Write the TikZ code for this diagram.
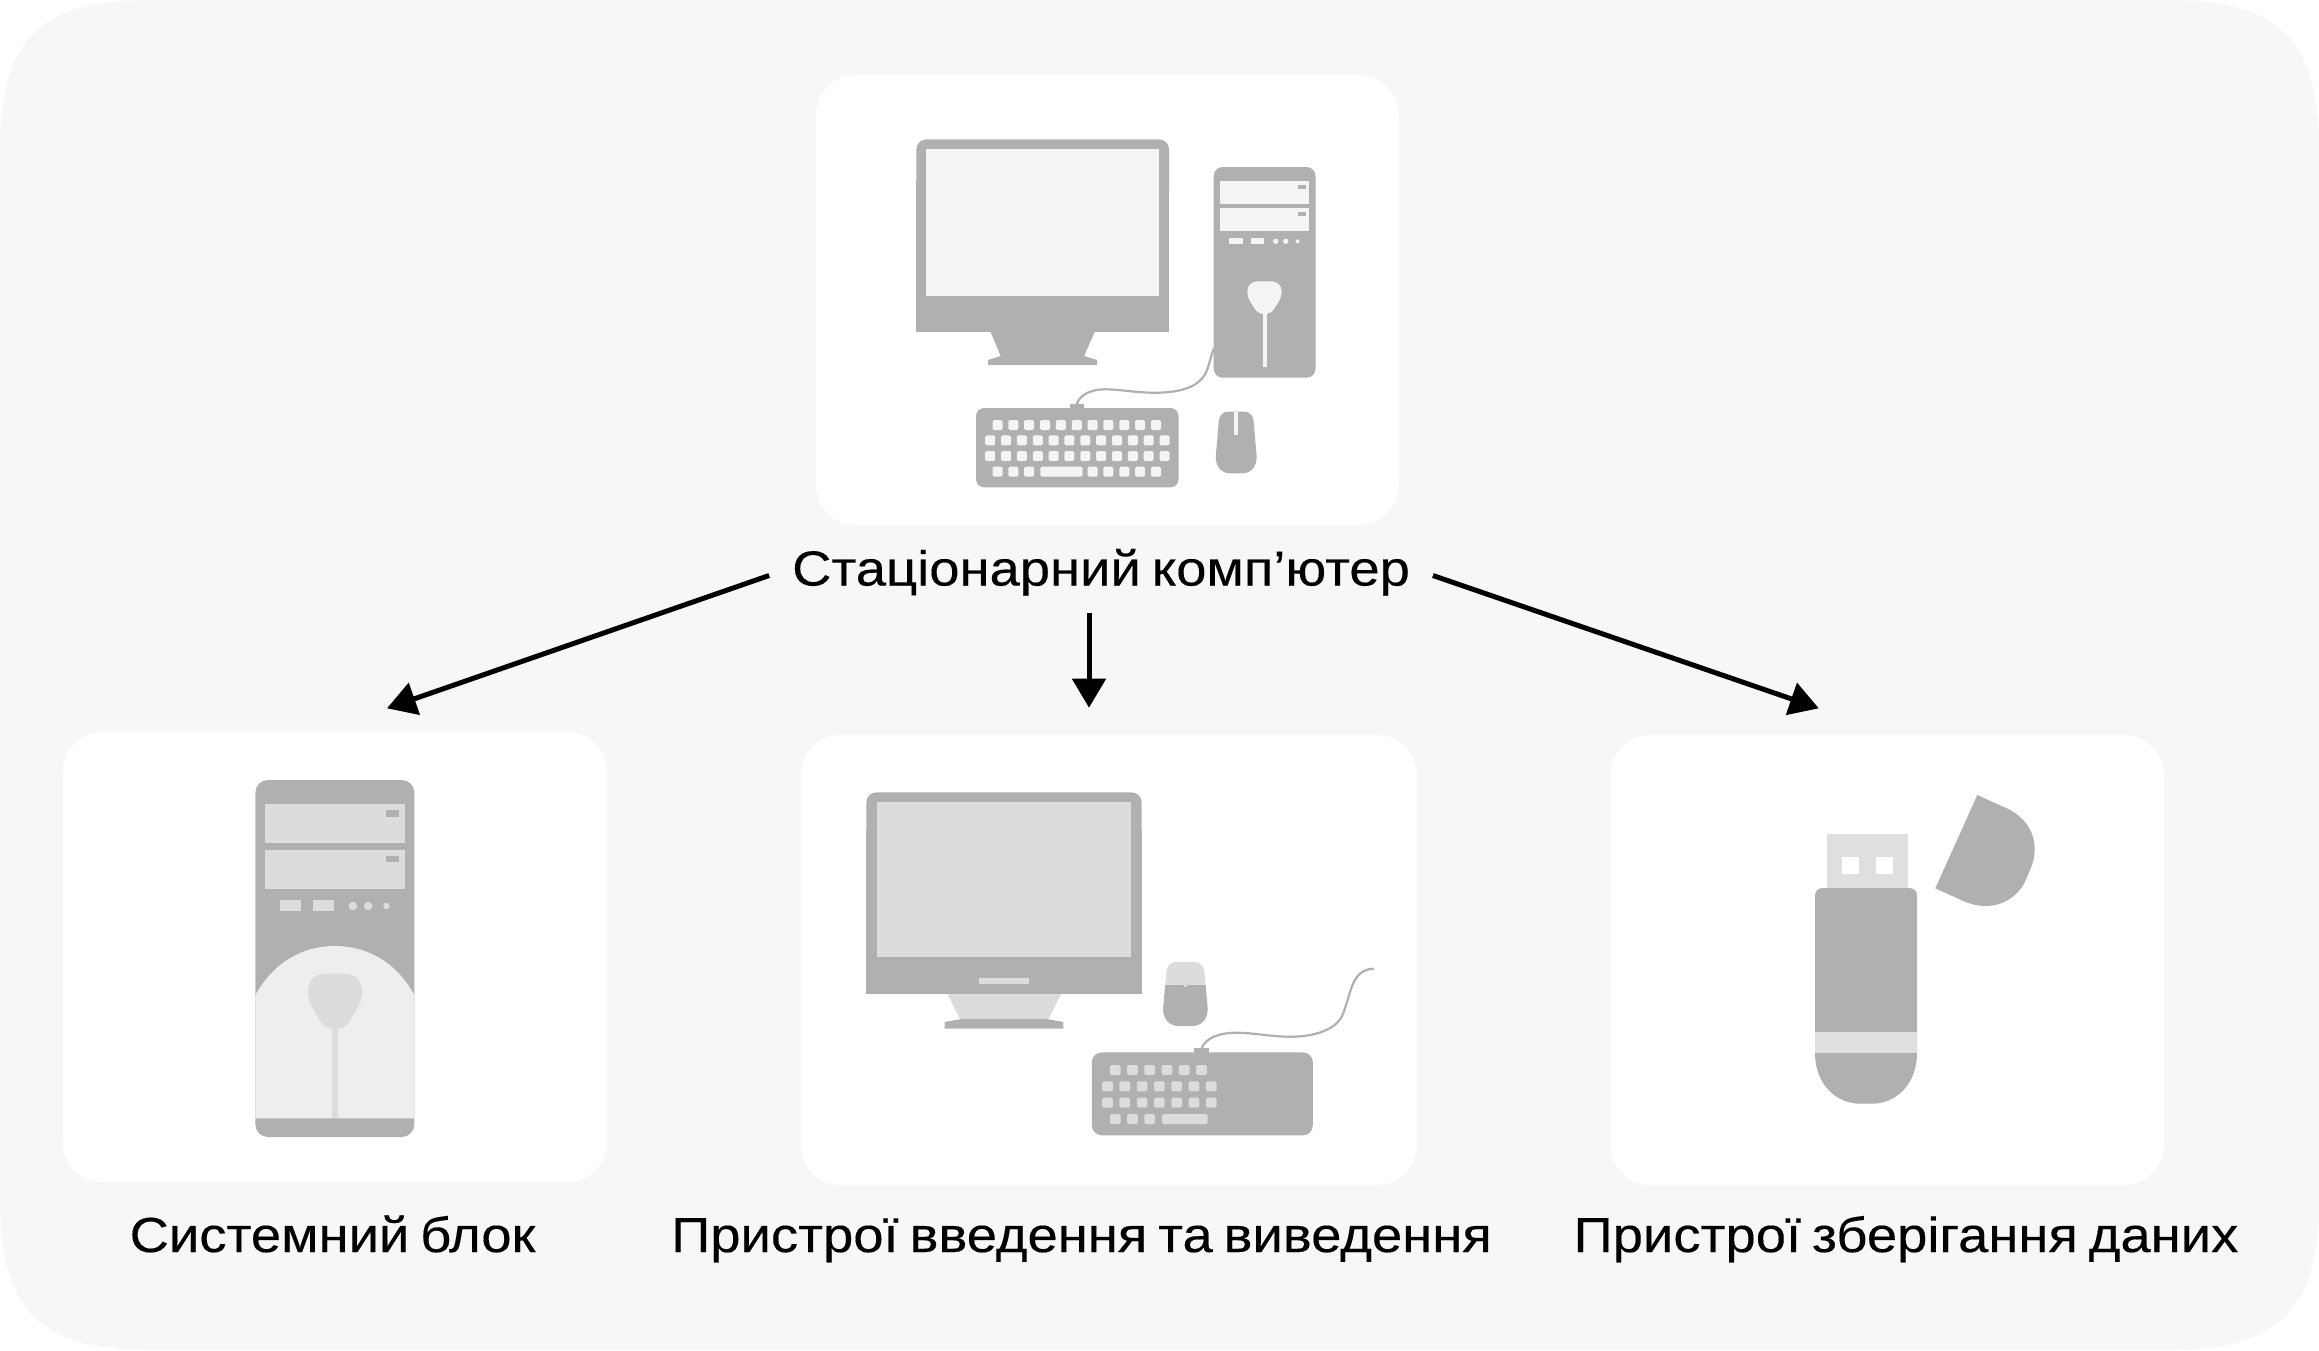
\documentclass[tikz,border=0pt]{standalone}
\usepackage{fontspec}
\usepackage{xcolor}
\usetikzlibrary{arrows.meta}
\setmainfont{Liberation Sans}[FakeStretch=1.105,FakeBold=0.25,WordSpace=0.72]

\definecolor{pagegrey}{HTML}{F7F7F7}
\definecolor{bodygrey}{HTML}{B0B0B0}
\definecolor{palegrey}{HTML}{DCDCDC}
\definecolor{domegrey}{HTML}{EEEEEE}
\definecolor{screengrey}{HTML}{F4F4F6}

\tikzset{
  panel/.style={fill=white,rounded corners=0.4cm,inner sep=0pt,minimum height=4.5cm},
  caption/.style={anchor=base,font=\fontsize{14pt}{17pt}\selectfont,inner sep=0pt},
  link/.style={line width=0.05cm,-{Triangle[length=0.29cm,width=0.33cm]}},
  wire/.style={draw=bodygrey,line width=0.022cm},
  capA/.style={fill=screengrey,rounded corners=0.015cm},
  capB/.style={fill=palegrey,rounded corners=0.015cm}
}

% outline of the mouse, one unit wide each side, one unit tall
\newcommand{\mouseoutline}{(-0.4,0) .. controls (-0.75,0) and (-0.86,0.1) .. (-0.86,0.19) -- (-1,0.73)
  .. controls (-1,0.9) and (-0.7,1) .. (-0.3,1) -- (0.3,1)
  .. controls (0.7,1) and (1,0.9) .. (1,0.73) -- (0.86,0.19)
  .. controls (0.86,0.1) and (0.75,0) .. (0.4,0) -- cycle}
% outline of the plate on the case front
\newcommand{\badgeoutline}{(-0.33,0) .. controls (-0.75,0) and (-1,0.12) .. (-1,0.32)
  .. controls (-1,0.42) and (-0.92,0.53) .. (-0.85,0.6) -- (-0.55,0.85)
  .. controls (-0.42,0.96) and (-0.2,1) .. (0,1)
  .. controls (0.2,1) and (0.42,0.96) .. (0.55,0.85) -- (0.85,0.6)
  .. controls (0.92,0.53) and (1,0.42) .. (1,0.32)
  .. controls (1,0.12) and (0.75,0) .. (0.33,0) -- cycle}

\begin{document}
\begin{tikzpicture}[x=0.01cm,y=-0.01cm]
\useasboundingbox (0,0) rectangle (2319,1350);
\fill[white] (0,0) rectangle (2319,1350);
\fill[pagegrey] (150,0) -- (2169,0) .. controls (2279,0) and (2319,40) .. (2319,150)
  -- (2319,1200) .. controls (2319,1310) and (2279,1350) .. (2169,1350)
  -- (150,1350) .. controls (40,1350) and (0,1310) .. (0,1200)
  -- (0,150) .. controls (0,40) and (40,0) .. (150,0) -- cycle;

\node[panel,minimum width=5.826cm] (pcBox) at (1107.3,300) {};
\node[panel,minimum width=5.439cm] (caseBox) at (334.85,957) {};
\node[panel,minimum width=6.156cm] (ioBox) at (1109,960) {};
\node[panel,minimum width=5.531cm] (usbBox) at (1887.2,960) {};

% desktop set: monitor
\fill[bodygrey,rounded corners=0.1cm] (916.4,139.3) rectangle (1169,200);
\fill[bodygrey] (916.4,180) rectangle (1169,332.3);
\fill[screengrey] (926,149.3) rectangle (1159,296.3);
\fill[bodygrey] (990.6,332) -- (1094.7,332) -- (1084,356) -- (1097,360) -- (1097,365) -- (988,365) -- (988,360) -- (1000.6,356) -- cycle;
% desktop set: case
\fill[bodygrey,rounded corners=0.09cm] (1213.7,167) rectangle (1315.5,377.7);
\foreach \y in {181,208} {
  \fill[screengrey] (1219.5,\y) rectangle ++(89.9,23.2);
  \fill[bodygrey] (1297.6,\y+4) rectangle ++(8.4,3.7);
}
\fill[screengrey] (1229.4,237.7) rectangle (1243.2,244);
\fill[screengrey] (1250.5,237.7) rectangle (1263.9,244);
\foreach \x/\r in {1275.7/2.7, 1285.7/2.7, 1297.6/2} \fill[screengrey] (\x,241.3) circle (\r);
\fill[screengrey,shift={(1264.5,281.3)},xscale=17.25,yscale=32.7] \badgeoutline;
\fill[screengrey] (1262.5,312) rectangle (1266.5,366.7);
\draw[wire] (1213.7,348.3) -- (1208,367) .. controls (1203,385) and (1185,392.7) .. (1155,392.7)
  .. controls (1135,392.7) and (1120,389.3) .. (1105,389.3) .. controls (1092,389.3) and (1080,394) .. (1076.7,404.3);
% desktop set: keyboard and mouse
\fill[bodygrey] (1070,404) rectangle (1084,409);
\fill[bodygrey,rounded corners=0.08cm] (976,408) rectangle (1178.5,487.3);
\foreach \i in {0,...,10} \fill[capA] ({992.5+15.85*\i},420) rectangle ++(10,10);
\foreach \y in {435.3,451} \foreach \i in {0,...,11} \fill[capA] ({985.2+15.85*\i},\y) rectangle ++(10,10);
\foreach \i in {0,1,2,6,7,8,9,10} \fill[capA] ({992.5+15.85*\i},466.7) rectangle ++(10,10);
\fill[capA] (1040.4,466.7) rectangle (1082.5,476.7);
\fill[bodygrey,shift={(1236.2,411.7)},xscale=20.45,yscale=61.6] \mouseoutline;
\fill[screengrey] (1234.2,411.7) rectangle (1238.2,435);

% system unit, large
\fill[bodygrey,rounded corners=0.125cm] (255.4,780) rectangle (414.3,1137);
\begin{scope}
  \clip (255.4,780) rectangle (414.3,1118.3);
  \fill[domegrey] (255.4,1118.3) -- (255.4,995) .. controls (275,960) and (305,946) .. (334.85,946)
    .. controls (365,946) and (395,960) .. (414.3,995) -- (414.3,1118.3) -- cycle;
\end{scope}
\foreach \y in {804,849.5} {
  \fill[palegrey] (265,\y) rectangle ++(140,39.2);
  \fill[bodygrey] (386.4,\y+6) rectangle ++(12.9,6.8);
}
\fill[palegrey] (280.4,899.7) rectangle (301.4,910.7);
\fill[palegrey] (312.9,899.7) rectangle (333.9,910.7);
\foreach \x/\r in {352.9/4.3, 368.2/4.3, 386.4/3.2} \fill[palegrey] (\x,906) circle (\r);
\fill[palegrey,shift={(335,973.7)},xscale=27.1,yscale=55.6] \badgeoutline;
\fill[palegrey] (331.6,1025) rectangle (338,1118.3);

% input and output devices: monitor
\fill[bodygrey,rounded corners=0.1cm] (866.4,792.3) rectangle (1141.6,850);
\fill[bodygrey] (866.4,830) rectangle (1141.6,994);
\fill[palegrey] (877.1,802.3) rectangle (1131,956.7);
\fill[palegrey] (979,978.3) rectangle (1029,984.3);
\fill[palegrey] (947.5,994) -- (1061,994) -- (1049,1018.5) -- (959.7,1018.5) -- cycle;
\fill[bodygrey] (963,1018.7) -- (1045,1018.7) -- (1063.3,1022) -- (1063.3,1028.7) -- (944.7,1028.7) -- (944.7,1022) -- cycle;
% input and output devices: mouse
\begin{scope}
  \clip[shift={(1185.4,962)},xscale=22.35,yscale=64] \mouseoutline;
  \fill[bodygrey] (1160,985) rectangle (1210,1030);
  \fill[palegrey] (1160,960) rectangle (1210,984.7);
  \fill[palegrey] (1185.5,985) circle (2);
\end{scope}
% input and output devices: keyboard and its lead
\draw[wire] (1374.1,968.7) .. controls (1358,968.7) and (1353,982) .. (1349.6,993.3)
  .. controls (1346,1005) and (1344,1012) .. (1341.7,1016.7) .. controls (1333,1032) and (1310,1036.7) .. (1290.3,1036.7)
  .. controls (1270,1036.7) and (1255,1032.7) .. (1235,1032.7) .. controls (1220,1032.7) and (1205,1038) .. (1201.7,1048.3);
\fill[bodygrey] (1194.2,1048) rectangle (1209.3,1053);
\fill[bodygrey,rounded corners=0.1cm] (1091.8,1052.3) rectangle (1312.8,1135.3);
\foreach \i in {0,...,5} \fill[capB] ({1109.8+17.27*\i},1065) rectangle ++(10.7,10);
\foreach \y in {1081.3,1097.7} \foreach \i in {0,...,6} \fill[capB] ({1102.2+17.27*\i},\y) rectangle ++(10.7,10);
\foreach \i in {0,1,2} \fill[capB] ({1109.8+17.27*\i},1114) rectangle ++(10.7,10);
\fill[capB] (1162.2,1114) rectangle (1207.7,1124);

% flash drive
\fill[palegrey!90!white] (1827,834) rectangle (1908,890);
\foreach \x in {1842.3,1876} \fill[white] (\x,857) rectangle ++(16.7,17);
\fill[bodygrey] (1815,1053) -- (1815,896) .. controls (1815,891) and (1818,888) .. (1823,888) -- (1909,888)
  .. controls (1914,888) and (1917,891) .. (1917,896) -- (1917,1053)
  .. controls (1917,1085) and (1895,1103.7) .. (1872,1103.7) -- (1860,1103.7)
  .. controls (1837,1103.7) and (1815,1085) .. (1815,1053) -- cycle;
\fill[palegrey!90!white] (1815,1032) rectangle (1917,1053);
\fill[bodygrey] (1977.3,795) -- (1935.3,888.3) -- (1963.3,901) .. controls (1990,913) and (2015,902) .. (2025,881.7)
  -- (2030,870) .. controls (2042,843) and (2030,819) .. (2006.7,808.3) -- cycle;

% labels and arrows
\node[caption,minimum width=6.62cm,text height=0.36cm,text depth=0.16cm,inner ysep=0.11cm] (pcLabel) at (1101,585.5) {Стаціонарний комп’ютер};
\node[caption] (caseLabel) at (332.5,1252) {Системний блок};
\node[caption] (ioLabel) at (1081.5,1252) {Пристрої введення та виведення};
\node[caption] (usbLabel) at (1906,1252) {Пристрої зберігання даних};

\coordinate (caseTip) at (387,708.3);
\coordinate (ioTip) at (1089,707.7);
\coordinate (usbTip) at (1818.8,708.3);
\draw[link] (pcLabel.west) -- (caseTip);
\draw[link] (pcLabel.south -| ioTip) -- (ioTip);
\draw[link] (pcLabel.east) -- (usbTip);
\end{tikzpicture}
\end{document}
